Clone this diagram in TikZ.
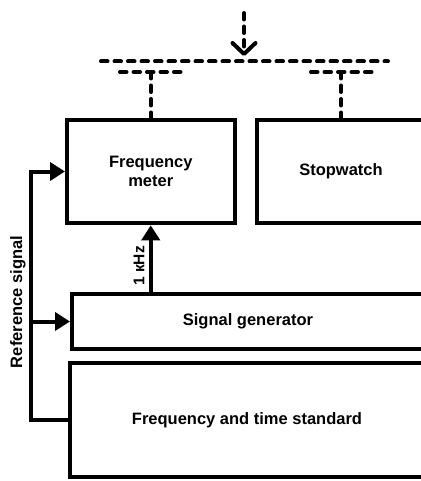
\documentclass[tikz,border=0pt]{standalone}
\usepackage{fontspec}
\setmainfont{Liberation Sans}
\usetikzlibrary{arrows.meta}
\begin{document}
\begin{tikzpicture}[x=1pt,y=-1pt,line width=4pt,
  txt/.style={font=\bfseries\fontsize{16.5}{18.5}\selectfont},
  box/.style={draw,line width=4pt,inner sep=0pt,txt,align=center},
  sig/.style={line width=4pt,-{Triangle[length=15pt,width=18pt]}},
  bus/.style={line width=4pt,dash pattern=on 6.5pt off 7pt,line cap=round}]
\useasboundingbox (0,0) rectangle (420,481);
\fill[white] (0,0) rectangle (420,481);
\node[box,minimum width=167.5pt,minimum height=103.6pt] (fm) at (150.75,171.5) {Frequency\\meter};
\node[box,minimum width=167.5pt,minimum height=103.6pt] (sw) at (341,171.5) {Stopwatch};
\node[box,minimum width=352pt,minimum height=55.6pt] (sg) at (248,321.5) {Signal generator};
\node[box,minimum width=354.6pt,minimum height=114.3pt] (st) at (247,419.9) {Frequency and time standard};
% reference signal
\coordinate (rx) at (31.3,0);
\draw[sig] (st.west) -- (st.west -| rx) |- (fm.west);
\draw[sig] (sg.west -| rx) -- (sg.west);
\node[txt,rotate=90] (rl) at (18,302) {Reference signal};
% 1 kHz
\draw[sig] (sg.north -| fm.south) -- (fm.south);
\node[txt,rotate=90,font=\bfseries\fontsize{15.5}{18}\selectfont] (kl) at (139,266) {1 кHz};
% dashed bus
\coordinate (top) at (244,13);
\coordinate (tip) at (244,56);
\draw[bus,-{Straight Barb[length=11pt,width=23pt,round]}] (top) -- (tip);
\coordinate (busL) at (101,61.5);
\coordinate (busR) at (388,61.5);
\draw[bus] (busL) -- (busR);
\coordinate (fl) at (120,72);
\coordinate (fr) at (182,72);
\coordinate (sl) at (311,72);
\coordinate (sr) at (372,72);
\draw[bus] (fl) -- (fr);
\draw[bus] (sl) -- (sr);
\draw[bus] (fm.north |- fl) -- (fm.north);
\draw[bus] (sw.north |- sl) -- (sw.north);
\end{tikzpicture}
\end{document}
